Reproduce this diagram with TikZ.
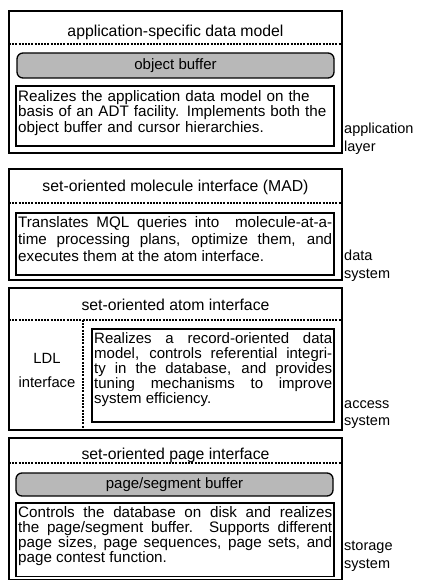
\documentclass[tikz,border=0pt]{standalone}
\usepackage{fontspec}
\setmainfont{Liberation Sans}
\usetikzlibrary{positioning}
\usetikzlibrary{calc}

\tikzset{
  layerframe/.style={draw, line width=1.8pt},
  sepline/.style={line width=1.1pt, dash pattern=on 2pt off 1.2pt},
  textframe/.style={draw, line width=1.3pt},
  bufferbox/.style={draw, line width=1.3pt, rounded corners=6pt, fill=black!28,
    font=\fontsize{15}{15}\selectfont},
  titletext/.style={font=\fontsize{15.8}{15}\selectfont, inner sep=0pt},
  textblock/.style={anchor=north west, inner sep=2pt, align=justify,
    font=\fontsize{15.2}{15.6}\selectfont},
  sidelabel/.style={anchor=north west, inner sep=0pt, align=left,
    font=\fontsize{14.5}{17.5}\selectfont}
}

% frame, title and dotted line of one layer
\newcommand{\drawlayer}[6]{
  \draw[layerframe] (9,#2) rectangle (342,#3);
  \node[titletext] (#1title) at (175.5,#4) {#6};
  \coordinate (#1sepl) at (9,#5);
  \coordinate (#1sepr) at (342,#5);
  \draw[sepline] (#1sepl) -- (#1sepr);
}

\begin{document}
\begin{tikzpicture}[x=1pt, y=-1pt]
\useasboundingbox (0,0) rectangle (421,580);

% application layer
\drawlayer{app}{11}{153}{32}{44}{application-specific data model}
\draw[bufferbox] (17,53) rectangle node (appbuf) {object buffer} (334,78);
\draw[textframe] (16,86) rectangle (334,146);
\node[textblock, text width=314pt, align=left] (apptext) at (16,88)
  {Realizes the application data model on the\\
   basis of an ADT facility. Implements both the\\
   object buffer and cursor hierarchies.};
\node[sidelabel] (applabel) at (344,123) {application\\layer};

% data system
\drawlayer{dat}{169}{280}{187}{203}{set-oriented molecule interface (MAD)}
\draw[textframe] (16,213) rectangle (334,275);
\node[textblock, text width=314pt, font=\fontsize{15.2}{17.2}\selectfont]
  (dattext) at (16,214)
  {Translates MQL queries into~ molecule-at-a-\linebreak
   time processing plans, optimize them, and\linebreak
   executes them at the atom interface.};
\node[sidelabel] (datlabel) at (344,250) {data\\system};

% access system
\drawlayer{acc}{288}{430}{305}{320}{set-oriented atom interface}
\coordinate (accsplit) at (83,430);
\draw[sepline] (83,320) -- (accsplit);
\node[titletext, align=center, font=\fontsize{14.8}{15}\selectfont] (ldl)
  at (47,370) {LDL\\[9pt]interface};
\draw[textframe] (92,329) rectangle (334,422);
\node[textblock, text width=238pt, font=\fontsize{15}{15.2}\selectfont]
  (acctext) at (92,330)
  {Realizes a record-oriented data\linebreak
   model, controls referential integri-\linebreak
   ty in the database, and provides\linebreak
   tuning mechanisms to improve\linebreak
   system efficiency.};
\node[sidelabel] (acclabel) at (344,400) {access\\system};

% storage system
\drawlayer{sto}{438}{579.5}{455}{463}{set-oriented page interface}
\draw[bufferbox] (16,473) rectangle node (stobuf) {page/segment buffer} (333,496);
\draw[textframe] (16,503) rectangle (334,576.5);
\node[textblock, text width=314pt, font=\fontsize{15.2}{15.2}\selectfont]
  (stotext) at (16,504)
  {Controls the database on disk and realizes\linebreak
   the page/segment buffer. Supports different\linebreak
   page sizes, page sequences, page sets, and\linebreak
   page contest function.};
\node[sidelabel] (stolabel) at (344,541) {storage\\system};
\end{tikzpicture}
\end{document}
